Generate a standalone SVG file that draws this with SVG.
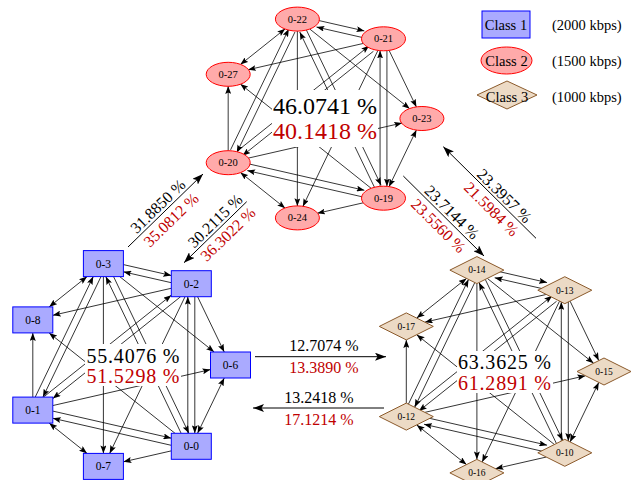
<svg xmlns="http://www.w3.org/2000/svg" width="644" height="480" viewBox="0 0 644 480">
<style>
.e{stroke:#000;stroke-width:0.8;fill:none;marker-end:url(#ah)}
.eb{stroke:#000;stroke-width:0.8;fill:none;marker-start:url(#ah);marker-end:url(#ah)}
.big{stroke:#000;stroke-width:1;fill:none;marker-end:url(#bh)}
.rn{fill:#aaaaff;stroke:#0000ff;stroke-width:1}
.en{fill:#ffaaaa;stroke:#ff0000;stroke-width:1}
.dn{fill:#ecdac5;stroke:#8b5a2b;stroke-width:1}
.t{font-family:"Liberation Serif",serif;fill:#000;text-anchor:middle}
.lr{font-size:11.5px}
.le{font-size:10.5px}
.ld{font-size:9.5px}
.pc{font-size:20px;letter-spacing:0.8px}
.pt{font-size:24px}
.il{font-size:16px}
.lg{font-size:14.5px}
.red{fill:#bf0000}
.wb{fill:#fff;stroke:none}
</style>
<defs>
<marker id="ah" viewBox="0 0 8 6" refX="8" refY="3" markerWidth="8" markerHeight="6" markerUnits="userSpaceOnUse" orient="auto-start-reverse"><path d="M0,0 L8,3 L0,6 L1.5,3 z" fill="#000"/></marker>
<marker id="bh" viewBox="0 0 11 8" refX="11" refY="4" markerWidth="11" markerHeight="8" markerUnits="userSpaceOnUse" orient="auto"><path d="M0,0 L11,4 L0,8 L2.5,4 z" fill="#000"/></marker>
</defs>
<g id="connectors">
<g id="edges-class1" transform="translate(126.5,365)">
<path class="e" d="M-3.1,-100.4 L44.8,-89.5"/>
<path class="e" d="M44.8,-82.3 L-3.1,-93.2"/>
<path class="eb" d="M-39.44,-88.38 L-77.36,-58.12"/>
<path class="e" d="M44.81,-76.73 L-73.71,-49.67"/>
<path class="e" d="M-6.76,-88.36 L87.66,-13.04"/>
<path class="e" d="M71.05,-68.33 L97.75,-12.97"/>
<path class="e" d="M68.3,-68.3 L68.3,68.3"/>
<path class="e" d="M61.3,68.3 L61.3,-68.3"/>
<path class="eb" d="M71.05,68.33 L97.75,12.97"/>
<path class="e" d="M44.81,85.87 L-3.11,96.83"/>
<path class="eb" d="M-77.36,58.12 L-39.44,88.38"/>
<path class="e" d="M-73.7,46.08 L44.8,73.14"/>
<path class="e" d="M44.8,80.32 L-73.7,53.26"/>
<path class="e" d="M-93.7,32.1 L-93.7,-32.1"/>
<path class="e" d="M-91.3,32.1 L-33.25,-88.4"/>
<path class="e" d="M-25.5,-88.4 L-83.55,32.1"/>
<path class="e" d="M-73.71,40.55 L84.01,4.55"/>
<path class="e" d="M54.13,-68.3 L-73.7,33.6"/>
<path class="e" d="M-83.03,32.1 L44.8,-69.8"/>
<path class="e" d="M48.46,68.26 L-77.36,-32.06"/>
<path class="e" d="M-23.1,-88.4 L-23.1,88.4"/>
<path class="e" d="M58.55,-68.33 L-16.85,88.43"/>
<path class="e" d="M-12.95,-88.4 L62.42,68.3"/>
<path class="e" d="M54.65,68.3 L-20.72,-88.4"/>
</g>
<g id="edges-class2" transform="translate(320,118.5) scale(0.98)">
<path class="e" d="M-2.04,-100.17 L45.3,-89.35"/>
<path class="e" d="M43.74,-82.53 L-3.6,-93.35"/>
<path class="eb" d="M-35.53,-91.49 L-81.27,-55.01"/>
<path class="e" d="M44.52,-76.66 L-73.42,-49.74"/>
<path class="e" d="M-10.67,-91.48 L91.57,-9.92"/>
<path class="e" d="M70.4,-69.68 L98.4,-11.62"/>
<path class="e" d="M68.3,-69.3 L68.3,69.3"/>
<path class="e" d="M61.3,69.3 L61.3,-69.3"/>
<path class="eb" d="M70.4,69.68 L98.4,11.62"/>
<path class="e" d="M44.52,85.94 L-2.82,96.76"/>
<path class="eb" d="M-81.27,55.01 L-35.53,91.49"/>
<path class="e" d="M-72.64,46.33 L45.3,73.25"/>
<path class="e" d="M43.74,80.07 L-74.2,53.15"/>
<path class="e" d="M-93.7,33.1 L-93.7,-33.1"/>
<path class="e" d="M-91.25,31.96 L-31.85,-91.3"/>
<path class="e" d="M-25.55,-88.26 L-84.95,35"/>
<path class="e" d="M-73.42,40.48 L83.72,4.62"/>
<path class="e" d="M54.55,-68.64 L-79.09,37.92"/>
<path class="e" d="M-83.45,32.44 L50.19,-74.12"/>
<path class="e" d="M52.37,71.38 L-81.27,-35.18"/>
<path class="e" d="M-23.1,-89.4 L-23.1,89.4"/>
<path class="e" d="M59.2,-69.68 L-17.5,89.78"/>
<path class="e" d="M-14.35,-91.3 L62.35,68.16"/>
<path class="e" d="M56.05,71.2 L-20.65,-88.26"/>
</g>
<g id="edges-class3" transform="translate(500,371.5)">
<path class="e" d="M-3.79,-100.57 L47.05,-88.95"/>
<path class="e" d="M45.49,-82.13 L-5.35,-93.75"/>
<path class="eb" d="M-33.5,-93.11 L-83.3,-53.39"/>
<path class="e" d="M46.27,-77.06 L-75.17,-49.34"/>
<path class="e" d="M-12.7,-93.1 L93.6,-8.3"/>
<path class="e" d="M70.05,-70.4 L98.75,-10.9"/>
<path class="e" d="M68.3,-69.55 L68.3,69.55"/>
<path class="e" d="M61.3,69.55 L61.3,-69.55"/>
<path class="eb" d="M70.05,70.4 L98.75,10.9"/>
<path class="e" d="M46.27,85.54 L-4.57,97.16"/>
<path class="eb" d="M-83.3,53.39 L-33.5,93.11"/>
<path class="e" d="M-74.39,45.93 L47.05,73.65"/>
<path class="e" d="M45.49,80.47 L-75.95,52.75"/>
<path class="e" d="M-93.7,31.6 L-93.7,-31.6"/>
<path class="e" d="M-91.6,32.68 L-31.5,-92.02"/>
<path class="e" d="M-25.2,-88.98 L-85.3,35.72"/>
<path class="e" d="M-75.17,40.88 L85.47,4.22"/>
<path class="e" d="M56.58,-70.26 L-81.12,39.54"/>
<path class="e" d="M-85.48,34.06 L52.22,-75.74"/>
<path class="e" d="M54.4,73 L-83.3,-36.8"/>
<path class="e" d="M-23.1,-87.9 L-23.1,87.9"/>
<path class="e" d="M59.55,-70.4 L-17.85,90.5"/>
<path class="e" d="M-14.7,-92.02 L62.7,68.88"/>
<path class="e" d="M56.4,71.92 L-21,-88.98"/>
</g>
<g id="inter">
<path class="big" d="M128,247 L203,174"/>
<path class="big" d="M246.7,201.7 L184,262.7"/>
<path class="big" d="M403.3,176 L484,256"/>
<path class="big" d="M536,238.3 L443.3,146.7"/>
<path class="big" d="M255,356.7 L386,356.7"/>
<path class="big" d="M384,408 L253,408"/>
</g>
</g>
<g id="edge-labels">
<g transform="translate(163.7,212.3) rotate(-44.2)"><text class="t il" y="-3">31.8850 %</text><text class="t il red" y="16">35.0812 %</text></g>
<g transform="translate(220.9,226.9) rotate(-44.2)"><text class="t il" y="-3">30.2115 %</text><text class="t il red" y="15.5">36.3022 %</text></g>
<g transform="translate(445.9,218.2) rotate(44.7)"><text class="t il" y="-3">23.7144 %</text><text class="t il red" y="16">23.5560 %</text></g>
<g transform="translate(498.8,201.5) rotate(44.7)"><text class="t il" y="-2.5">23.3957 %</text><text class="t il red" y="16">21.5984 %</text></g>
<text class="t il" x="324" y="350.5">12.7074 %</text>
<text class="t il red" x="324" y="373">13.3890 %</text>
<text class="t il" x="319" y="403">13.2418 %</text>
<text class="t il red" x="319" y="425">17.1214 %</text>
</g>
<g id="cluster-labels">
<rect class="wb" x="272" y="90" width="106" height="57"/>
<text class="t pt" x="325" y="114">46.0741 %</text>
<text class="t pt red" x="325" y="139">40.1418 %</text>
<rect class="wb" x="85" y="344" width="96" height="42"/>
<text class="t pc" x="133.4" y="362.5">55.4076 %</text>
<text class="t pc red" x="133.4" y="383">51.5298 %</text>
<rect class="wb" x="457" y="351" width="96" height="42"/>
<text class="t pc" x="504.9" y="369">63.3625 %</text>
<text class="t pc red" x="504.9" y="389.5">61.2891 %</text>
</g>
<g id="n0-6" transform="translate(230.5,365)"><rect class="rn" x="-20" y="-13" width="40" height="26"/><text class="t lr" y="4">0-6</text></g>
<g id="n0-2" transform="translate(191.3,283.7)"><rect class="rn" x="-20" y="-13" width="40" height="26"/><text class="t lr" y="4">0-2</text></g>
<g id="n0-3" transform="translate(103.4,263.6)"><rect class="rn" x="-20" y="-13" width="40" height="26"/><text class="t lr" y="4">0-3</text></g>
<g id="n0-8" transform="translate(32.8,319.9)"><rect class="rn" x="-20" y="-13" width="40" height="26"/><text class="t lr" y="4">0-8</text></g>
<g id="n0-1" transform="translate(32.8,410.1)"><rect class="rn" x="-20" y="-13" width="40" height="26"/><text class="t lr" y="4">0-1</text></g>
<g id="n0-7" transform="translate(103.4,466.4)"><rect class="rn" x="-20" y="-13" width="40" height="26"/><text class="t lr" y="4">0-7</text></g>
<g id="n0-0" transform="translate(191.3,446.3)"><rect class="rn" x="-20" y="-13" width="40" height="26"/><text class="t lr" y="4">0-0</text></g>
<g id="n0-23" transform="translate(421.9,118.5)"><ellipse class="en" rx="22" ry="12"/><text class="t le" y="3.5">0-23</text></g>
<g id="n0-21" transform="translate(383.5,38.8)"><ellipse class="en" rx="22" ry="12"/><text class="t le" y="3.5">0-21</text></g>
<g id="n0-22" transform="translate(297.4,19.1)"><ellipse class="en" rx="22" ry="12"/><text class="t le" y="3.5">0-22</text></g>
<g id="n0-27" transform="translate(228.2,74.3)"><ellipse class="en" rx="22" ry="12"/><text class="t le" y="3.5">0-27</text></g>
<g id="n0-20" transform="translate(228.2,162.7)"><ellipse class="en" rx="22" ry="12"/><text class="t le" y="3.5">0-20</text></g>
<g id="n0-24" transform="translate(297.4,217.9)"><ellipse class="en" rx="22" ry="12"/><text class="t le" y="3.5">0-24</text></g>
<g id="n0-19" transform="translate(383.5,198.2)"><ellipse class="en" rx="22" ry="12"/><text class="t le" y="3.5">0-19</text></g>
<g id="n0-15" transform="translate(604,371.5)"><path class="dn" d="M-27,0 L0,-13.5 L27,0 L0,13.5 z"/><text class="t ld" y="3.3">0-15</text></g>
<g id="n0-13" transform="translate(564.8,290.2)"><path class="dn" d="M-27,0 L0,-13.5 L27,0 L0,13.5 z"/><text class="t ld" y="3.3">0-13</text></g>
<g id="n0-14" transform="translate(476.9,270.1)"><path class="dn" d="M-27,0 L0,-13.5 L27,0 L0,13.5 z"/><text class="t ld" y="3.3">0-14</text></g>
<g id="n0-17" transform="translate(406.3,326.4)"><path class="dn" d="M-27,0 L0,-13.5 L27,0 L0,13.5 z"/><text class="t ld" y="3.3">0-17</text></g>
<g id="n0-12" transform="translate(406.3,416.6)"><path class="dn" d="M-27,0 L0,-13.5 L27,0 L0,13.5 z"/><text class="t ld" y="3.3">0-12</text></g>
<g id="n0-16" transform="translate(476.9,472.9)"><path class="dn" d="M-27,0 L0,-13.5 L27,0 L0,13.5 z"/><text class="t ld" y="3.3">0-16</text></g>
<g id="n0-10" transform="translate(564.8,452.8)"><path class="dn" d="M-27,0 L0,-13.5 L27,0 L0,13.5 z"/><text class="t ld" y="3.3">0-10</text></g>
<g id="legend">
<rect class="rn" x="482" y="11" width="48" height="27"/>
<text class="t lg" x="506" y="30">Class 1</text>
<text class="t lg" x="552" y="30" style="text-anchor:start">(2000 kbps)</text>
<ellipse class="en" cx="506.5" cy="60.5" rx="25.5" ry="13.5"/>
<text class="t lg" x="506.5" y="66">Class 2</text>
<text class="t lg" x="552" y="66" style="text-anchor:start">(1500 kbps)</text>
<path class="dn" d="M477,95 L507,81 L537,95 L507,109 z"/>
<text class="t lg" x="507" y="101.5">Class 3</text>
<text class="t lg" x="552" y="101.5" style="text-anchor:start">(1000 kbps)</text>
</g>
</svg>
